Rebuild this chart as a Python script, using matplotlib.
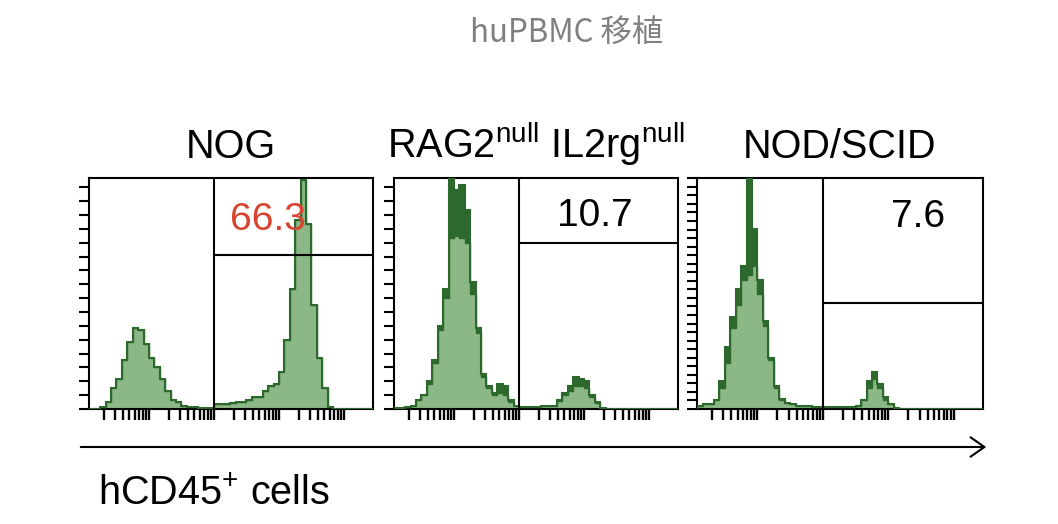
import numpy as np
import matplotlib
matplotlib.use('Agg')
import matplotlib.pyplot as plt

plt.rcParams['font.family'] = ['Liberation Sans', 'DejaVu Sans']
plt.rcParams['mathtext.fontset'] = 'custom'
plt.rcParams['mathtext.rm'] = 'Liberation Sans'
plt.rcParams['mathtext.it'] = 'Liberation Sans:italic'

# histogram bins in log10 units (1/12 decade wide)
edges = np.arange(0, 4.5 + 1e-9, 1 / 12)

# NOG
nog_counts = [0, 0, 0, 1, 3, 9, 13, 21, 29, 35, 34, 28, 22, 18, 13, 8, 4, 3,
              1.5, 1, 1, 0.5, 0.5, 0.5, 2, 2, 2, 2.5, 3, 3, 4, 5, 5, 8, 10, 11,
              16, 30, 52, 82, 99, 80, 45, 22, 9, 1, 0, 0, 0, 0, 0, 0, 0, 0]

# RAG2null IL2rgnull
rag_hi = [0, 0.5, 0.5, 1, 1.5, 4, 6, 12, 21, 36, 52, 100, 95, 97, 86, 55, 35,
          15, 10, 7, 11, 10, 4, 1.5, 1, 0.8, 0.8, 1, 1.5, 1.5, 1.5, 4, 7, 10,
          14, 13, 12, 6, 3, 0.5, 0, 0, 0, 0, 0, 0, 0, 0, 0, 0, 0, 0, 0, 0]
rag_lo = [0, 0.5, 0.5, 1, 1.5, 4, 6, 11, 20, 34, 48, 74, 75, 74, 72, 50, 33,
          14, 9, 6, 7, 6, 3, 1.5, 1, 0.8, 0.8, 1, 1.5, 1.5, 1.5, 3.5, 6, 8,
          10, 10, 9, 5, 2.5, 0.5, 0, 0, 0, 0, 0, 0, 0, 0, 0, 0, 0, 0, 0, 0]

# NOD/SCID
scid_hi = [0, 1.5, 2, 2, 4, 12, 27, 40, 52, 62, 100, 78, 56, 38, 22, 10, 4.5,
           2.5, 2, 1.5, 1.5, 1.5, 1, 1, 1, 0.8, 1, 0.8, 1, 1, 1.5, 4, 12, 16,
           11, 5, 2, 0.5, 0, 0, 0, 0, 0, 0, 0, 0, 0, 0, 0, 0, 0, 0, 0, 0]
scid_lo = [0, 1.5, 2, 2, 4, 9, 20, 35, 45, 56, 58, 62, 50, 36, 21, 9, 4,
           2.5, 2, 1.5, 1.5, 1.5, 1, 1, 1, 0.8, 1, 0.8, 1, 1, 1.5, 4, 9, 13,
           9, 4, 2, 0.5, 0, 0, 0, 0, 0, 0, 0, 0, 0, 0, 0, 0, 0, 0, 0, 0]

titles = ['NOG', r'RAG2$^{\mathrm{null}}$ IL2rg$^{\mathrm{null}}$', 'NOD/SCID']
percents = ['66.3', '10.7', '7.6']
gate_x = [2.0, 2.0, 2.0]
gate_y = [66.7, 72, 46]
label_pos = [(2.83, 82), (3.17, 83.6), (3.46, 83)]
label_colors = ['#d8432f', 'black', 'black']
ytick_step = [6, 6, 3.7]

dark = '#2d692d'
light = '#8cb786'

fig = plt.figure(figsize=(10.58, 5.24), dpi=100)

boxes = [(89, 373), (394, 678), (697, 983)]
top_px, bot_px = 178, 409
W, H = 1058, 524

xmin = 0.077
xmax = xmin + 284 / 65
xticks = [d + np.log10(k) for d in range(4) for k in range(1, 10)] + [4]
xticks = [t for t in xticks if t > xmin]

series = [(nog_counts, nog_counts), (rag_hi, rag_lo), (scid_hi, scid_lo)]

for i, (l, r) in enumerate(boxes):
    ax = fig.add_axes([l / W, 1 - bot_px / H, (r - l) / W, (bot_px - top_px) / H])
    hi, lo = series[i]
    ax.stairs(hi, edges, fill=True, color=dark, zorder=1)
    ax.stairs(lo, edges, fill=True, color=light, zorder=2)
    ax.stairs(lo, edges, color=dark, lw=1.0, zorder=3)
    ax.stairs(hi, edges, color=dark, lw=1.5, zorder=3)
    ax.set_xlim(xmin, xmax)
    ax.set_ylim(0, 100)
    ax.axvline(gate_x[i], color='black', lw=1.5, zorder=5)
    ax.hlines(gate_y[i], gate_x[i], xmax, color='black', lw=1.5, zorder=5)
    ax.text(label_pos[i][0], label_pos[i][1], percents[i], color=label_colors[i],
            fontsize=28, ha='center', va='center', zorder=6)
    ax.set_xticks(xticks)
    ax.set_yticks(np.arange(0, 100, ytick_step[i]))
    ax.tick_params(axis='x', direction='out', length=8, width=1.7)
    ax.tick_params(axis='y', direction='out', length=7, width=1.5)
    ax.tick_params(labelbottom=False, labelleft=False)
    for s in ax.spines.values():
        s.set_linewidth(1.5)
    fig.text((l + r) / 2 / W, 1 - 158 / H, titles[i], fontsize=28.5,
             ha='center', va='baseline')

fig.text(566 / W, 1 - 33 / H, 'huPBMC 移植', fontsize=22.5, color='#808080',
         ha='center', va='center', family=['Noto Sans CJK JP', 'DejaVu Sans'])

fig.patches.append(matplotlib.patches.FancyArrowPatch(
    (78 / W, 1 - 447 / H), (989 / W, 1 - 447 / H), transform=fig.transFigure,
    arrowstyle='->, head_length=0.5, head_width=0.35', mutation_scale=20,
    lw=1.5, color='black'))

fig.text(98 / W, 1 - 505 / H, r'hCD45$^{+}$ cells', fontsize=28.5,
         ha='left', va='baseline')

fig.savefig('out.png', dpi=100)
